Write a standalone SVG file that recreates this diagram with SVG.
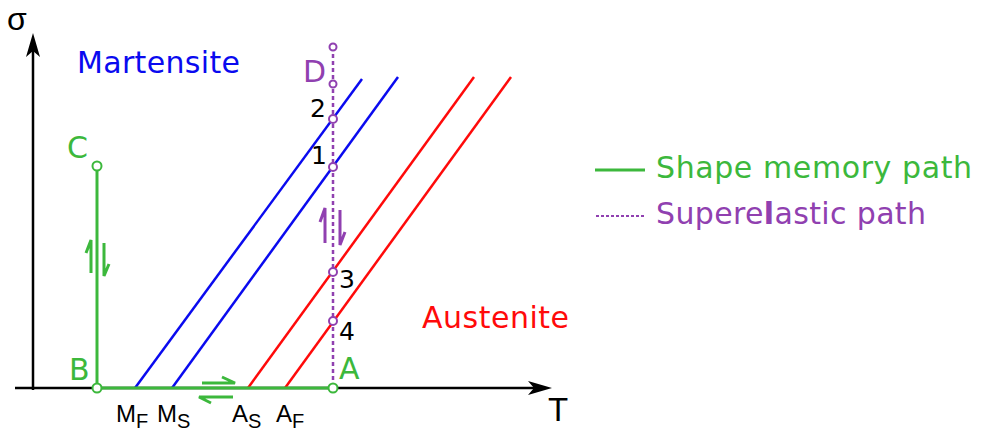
<svg xmlns="http://www.w3.org/2000/svg" width="981" height="435" viewBox="0 0 981 435">
<defs>
<style>
text{font-family:"DejaVu Sans","Verdana",sans-serif;}
.lbl{font-size:30px;}
.ar{font-family:"Liberation Sans","Arial",sans-serif;}
.num{font-size:25px;fill:#000;}
.g{fill:#3cb83c;}
.p{fill:#9040b0;}
.k{fill:#000;}
.ax{stroke:#000;stroke-width:2.5;fill:none;}
.bl{stroke:#0a0aef;stroke-width:2.5;fill:none;}
.rd{stroke:#ff0a0a;stroke-width:2.5;fill:none;}
.gl{stroke:#3cb83c;stroke-width:3;fill:none;}
.pl{stroke:#9040b0;stroke-width:2.5;stroke-dasharray:4 3;fill:none;}
.gc{fill:#fff;stroke:#3cb83c;stroke-width:2;}
.pc{fill:#fff;stroke:#9040b0;stroke-width:2;}
.ha{stroke-width:3;fill:none;stroke-linecap:butt;}
</style>
</defs>
<g id="connectors">
<g id="axes">
<line class="ax" x1="33" y1="390" x2="33" y2="48"/>
<path d="M33,33 L26,57 L33,51 L40,57 Z" fill="#000"/>
<line class="ax" x1="15" y1="388" x2="540" y2="388"/>
<path d="M552,388 L528,381 L534,388 L528,395 Z" fill="#000"/>
</g>
<g id="transformation-lines">
<line class="bl" x1="135" y1="388" x2="362" y2="79"/>
<line class="bl" x1="172" y1="388" x2="398" y2="77"/>
<line class="rd" x1="248" y1="388" x2="474" y2="77"/>
<line class="rd" x1="285" y1="388" x2="511" y2="77"/>
</g>
<g id="superelastic-path">
<line class="pl" x1="333" y1="47" x2="333" y2="388"/>
<path class="ha" stroke="#9040b0" d="M325,243 L325,208 L320,222"/>
<path class="ha" stroke="#9040b0" d="M340,210 L340,245 L345,232"/>
</g>
<g id="shape-memory-path">
<line class="gl" x1="97" y1="166" x2="97" y2="388"/>
<line class="gl" x1="97" y1="388" x2="333" y2="388"/>
<path class="ha" stroke="#3cb83c" d="M91,273 L91,240 L86,253"/>
<path class="ha" stroke="#3cb83c" d="M104,243 L104,276 L109,264"/>
<path class="ha" stroke="#3cb83c" d="M202,383 L235,383 L222,377"/>
<path class="ha" stroke="#3cb83c" d="M233,397 L199,397 L211,403"/>
</g>
</g>
<g id="node-A"><circle class="gc" cx="333" cy="388" r="4.5"/><text class="lbl g" x="339" y="379">A</text></g>
<g id="node-B"><circle class="gc" cx="97" cy="388" r="4.5"/><text class="lbl g" x="69" y="380">B</text></g>
<g id="node-C"><circle class="gc" cx="97" cy="166" r="4.5"/><text class="lbl g" x="67" y="158">C</text></g>
<g id="node-D"><circle class="pc" cx="333" cy="47" r="3.5"/><circle class="pc" cx="333" cy="84" r="3.5"/><text class="lbl p" x="303" y="82">D</text></g>
<g id="node-2"><circle class="pc" cx="333" cy="119" r="4"/><text class="num" x="310" y="117">2</text></g>
<g id="node-1"><circle class="pc" cx="333" cy="167" r="4"/><text class="num" x="311" y="164">1</text></g>
<g id="node-3"><circle class="pc" cx="333" cy="272" r="4"/><text class="num" x="339" y="288">3</text></g>
<g id="node-4"><circle class="pc" cx="333" cy="321" r="4"/><text class="num" x="339" y="340">4</text></g>
<g id="labels">
<text class="ar k" x="7" y="30" font-size="32">σ</text>
<text class="ar k" x="548" y="421" font-size="33">T</text>
<text class="lbl" x="77" y="73" fill="#0a0aef" textLength="163" lengthAdjust="spacing">Martensite</text>
<text class="lbl" x="422" y="328" fill="#ff0a0a" textLength="147" lengthAdjust="spacing">Austenite</text>
<text class="ar k" x="116" y="422" font-size="24">M<tspan font-size="20" dy="6">F</tspan></text>
<text class="ar k" x="157" y="422" font-size="24">M<tspan font-size="20" dy="6">S</tspan></text>
<text class="ar k" x="232" y="422" font-size="24">A<tspan font-size="20" dy="6">S</tspan></text>
<text class="ar k" x="276" y="422" font-size="24">A<tspan font-size="20" dy="6">F</tspan></text>
</g>
<g id="legend">
<line class="gl" x1="595" y1="170" x2="645" y2="170"/>
<text class="lbl g" x="656" y="178" textLength="316" lengthAdjust="spacing">Shape memory path</text>
<line class="pl" x1="596" y1="216" x2="645" y2="216" style="stroke-width:2;stroke-dasharray:3 2"/>
<text class="lbl p" x="656" y="224" textLength="270" lengthAdjust="spacing">Supere<tspan font-weight="bold">l</tspan>astic path</text>
</g>
</svg>
